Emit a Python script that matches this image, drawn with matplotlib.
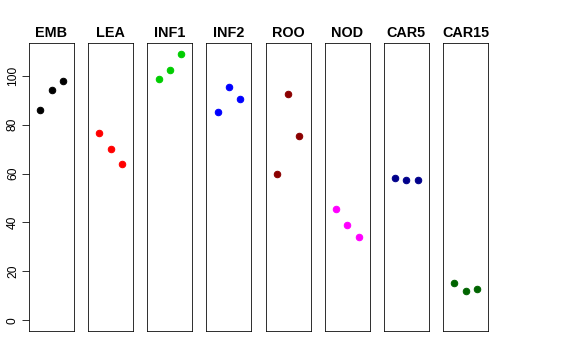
import matplotlib.pyplot as plt

plt.rcParams['font.family'] = ['Liberation Sans', 'DejaVu Sans']

# tissue groups, three values each
groups = ['EMB', 'LEA', 'INF1', 'INF2', 'ROO', 'NOD', 'CAR5', 'CAR15']
values = {
    'EMB': [85.8, 94.2, 97.8],
    'LEA': [76.4, 70.0, 63.8],
    'INF1': [98.6, 102.3, 108.8],
    'INF2': [85.2, 95.4, 90.4],
    'ROO': [59.8, 92.5, 75.2],
    'NOD': [45.4, 39.0, 34.1],
    'CAR5': [58.3, 57.3, 57.5],
    'CAR15': [15.2, 12.1, 12.9],
}
colors = ['black', 'red', '#00CD00', 'blue', '#8B0000', 'magenta', '#00008B', '#006400']
yticks = [0, 20, 40, 60, 80, 100]

fig = plt.figure(figsize=(8, 5), dpi=72)

W, H = 576.0, 360.0
for i, g in enumerate(groups):
    left = 29 + 59.15 * i
    ax = fig.add_axes([left / W, 29 / H, 45 / W, 288 / H])
    ax.plot([1, 2, 3], values[g], 'o', color=colors[i], markersize=6.5)
    ax.set_xlim(0, 4)
    ax.set_ylim(-4.4, 113.4)
    ax.set_xticks([])
    for s in ax.spines.values():
        s.set_linewidth(0.8)
    ax.set_title(g, fontsize=14.4, fontweight='bold', pad=6)
    if i == 0:
        ax.set_yticks(yticks)
        ax.tick_params(axis='y', length=7, width=0.8, labelsize=12, pad=3)
        for lab in ax.get_yticklabels():
            lab.set_rotation(90)
            lab.set_va('center')
    else:
        ax.set_yticks([])

fig.savefig('out.png', dpi=72)
